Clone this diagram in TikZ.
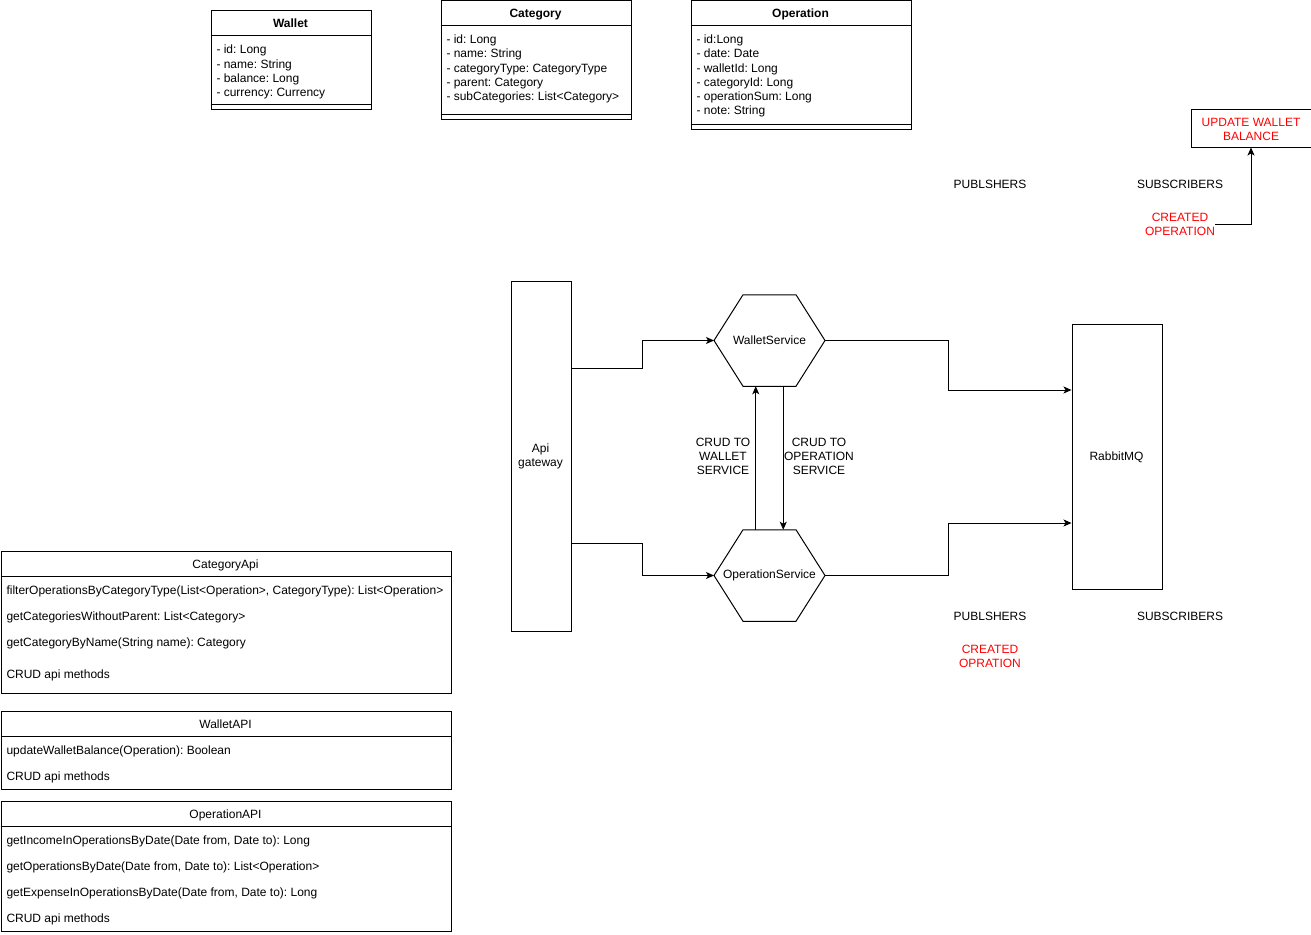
\documentclass[tikz,border=0pt]{standalone}
\usepackage{fontspec}
\setmainfont{Liberation Sans}
\usetikzlibrary{arrows.meta,calc}
\definecolor{dred}{HTML}{FF0000}
\frenchspacing
\tikzset{
  box/.style={draw, line width=1pt, inner sep=0pt, anchor=north west},
  txt/.style={inner sep=0pt, font=\fontsize{12}{14}\selectfont\frenchspacing},
  lt/.style={txt, anchor=base west},
  ct/.style={txt, anchor=base},
  mt/.style={txt, align=center},
  redt/.style={text=dred},
  hexnode/.style={inner sep=0pt, minimum width=110pt, minimum height=90.5pt, font=\fontsize{12}{14}\selectfont},
  conn/.style={line width=1pt, -{Stealth[length=8pt,width=7pt,inset=2pt]}},
}
\newcommand{\hexdraw}[1]{%
  \draw[line width=1pt] (#1.west) -- ($(#1.north west)+(29,0)$) -- ($(#1.north east)+(-29,0)$) -- (#1.east) -- ($(#1.south east)+(-29,0)$) -- ($(#1.south west)+(29,0)$) -- cycle;}
\begin{document}
\begin{tikzpicture}[x=1pt,y=-1pt,line width=1pt]
\useasboundingbox (0,0) rectangle (1311,934);

% ---------- Wallet class ----------
\node[box, minimum width=160pt, minimum height=98pt] (wallet) at (210.5,10.5) {};
\draw (210.5,36) -- (370.5,36);
\draw (210.5,104) -- (370.5,104);
\node[ct, font=\fontsize{12}{14}\selectfont\bfseries] (walletT) at (290.5,28) {Wallet};
\foreach \t [count=\i] in {- id: Long, - name: String, - balance: Long, - currency: Currency}
  \node[lt] (wa\i) at (216, 40+14*\i) {\t};

% ---------- Category class ----------
\node[box, minimum width=190pt, minimum height=118pt] (category) at (440.5,0.5) {};
\draw (440.5,26) -- (630.5,26);
\draw (440.5,114) -- (630.5,114);
\node[ct, font=\fontsize{12}{14}\selectfont\bfseries] (categoryT) at (535.5,18) {Category};
\foreach \t [count=\i] in {- id: Long, - name: String, - categoryType: CategoryType, - parent: Category, - subCategories: List<Category>}
  \node[lt] (ca\i) at (446, 30+14*\i) {\t};

% ---------- Operation class ----------
\node[box, minimum width=220pt, minimum height=128pt] (operation) at (690.5,0.5) {};
\draw (690.5,26) -- (910.5,26);
\draw (690.5,124) -- (910.5,124);
\node[ct, font=\fontsize{12}{14}\selectfont\bfseries] (operationT) at (800.5,18) {Operation};
\foreach \t [count=\i] in {- id:Long, - date: Date, - walletId: Long, - categoryId: Long, - operationSum: Long, - note: String}
  \node[lt] (op\i) at (696, 30+14*\i) {\t};

% ---------- pub/sub labels ----------
\node[box, minimum width=120pt, minimum height=38pt] (upd) at (1190.5,108.5) {};
\node[mt, redt] (updT) at ($(upd.center)+(0,1)$) {UPDATE WALLET\\BALANCE};
\node[ct] (pub1) at (990,188) {PUBLSHERS};
\node[ct] (sub1) at (1180,188) {SUBSCRIBERS};
\node[mt, redt, minimum width=60pt] (co1) at (1180,224) {CREATED\\OPERATION};
\draw[conn] (co1.east) -| (upd.south);

\node[ct] (pub2) at (990,620) {PUBLSHERS};
\node[ct] (sub2) at (1180,620) {SUBSCRIBERS};
\node[mt, redt] (co2) at (990,656.5) {CREATED\\OPRATION};

% ---------- Api gateway ----------
\node[box, minimum width=60pt, minimum height=350pt] (api) at (510.5,280.5) {};
\node[mt] (apiT) at ($(api.center)+(-0.5,0.5)$) {Api\\gateway};

% ---------- Services ----------
\node[hexnode] (ws) at (769.5,340.5) {WalletService};
\hexdraw{ws}
\node[hexnode] (os) at (769.5,575.5) {OperationService};
\hexdraw{os}

% ---------- RabbitMQ ----------
\node[box, minimum width=90pt, minimum height=265pt] (rmq) at (1071.5,323.5) {};
\node[txt] (rmqT) at ($(rmq.center)+(-0.5,0.5)$) {RabbitMQ};

% ---------- connectors ----------
\coordinate (apiA) at ($(api.north east)!0.25!(api.south east)$);
\coordinate (apiB) at ($(api.north east)!0.75!(api.south east)$);
\coordinate (rmqA) at ($(rmq.north west)!0.25!(rmq.south west)$);
\coordinate (rmqB) at ($(rmq.north west)!0.75!(rmq.south west)$);

\draw[conn] (apiA) -| ($(apiA)!0.5!(ws.west)$) |- (ws.west);
\draw[conn] (apiB) -| ($(apiB)!0.5!(os.west)$) |- (os.west);
\draw[conn] (ws.east) -| ($(ws.east)!0.5!(rmqA)$) |- (rmqA);
\draw[conn] (os.east) -| ($(os.east)!0.5!(rmqB)$) |- (rmqB);

\draw[conn] ($(os.north)+(-13.75,0)$) -- ($(ws.south)+(-13.75,0)$);
\draw[conn] ($(ws.south)+(13.75,0)$) -- ($(os.north)+(13.75,0)$);

\node[mt] (lblW) at (723,456) {CRUD TO\\WALLET\\SERVICE};
\node[mt] (lblO) at (819,456) {CRUD TO\\OPERATION\\SERVICE};

% ---------- CategoryApi ----------
\node[box, minimum width=450pt, minimum height=142pt] (capi) at (0.5,550.5) {};
\draw (0.5,576) -- (450.5,576);
\node[ct] (capiT) at (225.5,568) {CategoryApi};
\node[lt] (capi1) at (6,594) {filterOperationsByCategoryType(List<Operation>, CategoryType): List<Operation>};
\node[lt] (capi2) at (6,620) {getCategoriesWithoutParent: List<Category>};
\node[lt] (capi3) at (6,646) {getCategoryByName(String name): Category};
\node[lt] (capi4) at (6,678) {CRUD api methods};

% ---------- WalletAPI ----------
\node[box, minimum width=450pt, minimum height=78pt] (wapi) at (0.5,710.5) {};
\draw (0.5,736) -- (450.5,736);
\node[ct] (wapiT) at (225.5,728) {WalletAPI};
\node[lt] (wapi1) at (6,754) {updateWalletBalance(Operation): Boolean};
\node[lt] (wapi2) at (6,780) {CRUD api methods};

% ---------- OperationAPI ----------
\node[box, minimum width=450pt, minimum height=130pt] (oapi) at (0.5,800.5) {};
\draw (0.5,826) -- (450.5,826);
\node[ct] (oapiT) at (225.5,818) {OperationAPI};
\node[lt] (oapi1) at (6,844) {getIncomeInOperationsByDate(Date from, Date to): Long};
\node[lt] (oapi2) at (6,870) {getOperationsByDate(Date from, Date to): List<Operation>};
\node[lt] (oapi3) at (6,896) {getExpenseInOperationsByDate(Date from, Date to): Long};
\node[lt] (oapi4) at (6,922) {CRUD api methods};
\end{tikzpicture}
\end{document}
